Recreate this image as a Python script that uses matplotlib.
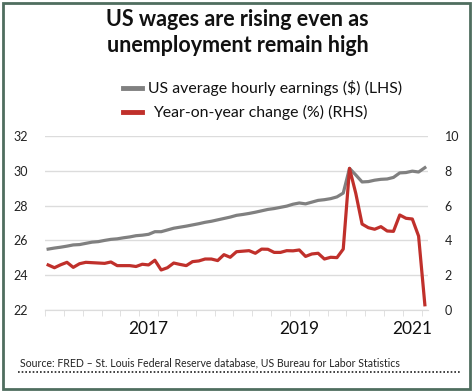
import matplotlib
matplotlib.use("Agg")
import matplotlib.pyplot as plt
from matplotlib.patches import Rectangle
from matplotlib.lines import Line2D
import numpy as np
import pandas as pd

plt.rcParams['font.family'] = ['Lato', 'DejaVu Sans']

# monthly data, Apr 2016 - Apr 2021
months = pd.date_range("2016-04-01", periods=61, freq="MS")

earnings = [25.50, 25.56, 25.61, 25.67, 25.74, 25.76, 25.83, 25.90, 25.93, 26.00,
            26.06, 26.09, 26.15, 26.20, 26.27, 26.30, 26.35, 26.50, 26.50, 26.60,
            26.70, 26.76, 26.82, 26.89, 26.96, 27.04, 27.10, 27.18, 27.26, 27.34,
            27.44, 27.49, 27.55, 27.62, 27.70, 27.78, 27.83, 27.90, 27.97, 28.08,
            28.15, 28.10, 28.20, 28.30, 28.34, 28.40, 28.50, 28.72, 30.14, 29.76,
            29.36, 29.38, 29.46, 29.51, 29.53, 29.62, 29.88, 29.90, 29.98, 29.93,
            30.18]

yoy = [2.59, 2.43, 2.60, 2.74, 2.45, 2.66, 2.74, 2.72, 2.70, 2.68,
       2.76, 2.55, 2.55, 2.55, 2.50, 2.63, 2.59, 2.86, 2.30, 2.43,
       2.70, 2.62, 2.55, 2.78, 2.82, 2.93, 2.93, 2.84, 3.18, 3.03,
       3.35, 3.38, 3.41, 3.26, 3.50, 3.49, 3.31, 3.31, 3.41, 3.40,
       3.45, 3.08, 3.22, 3.26, 2.93, 3.03, 3.01, 3.50, 8.14, 6.70,
       4.94, 4.73, 4.64, 4.79, 4.54, 4.52, 5.46, 5.27, 5.23, 4.25,
       0.30]

year_labels = ["2017", "2019", "2021"]
year_label_months = ["2017-08", "2019-08", "2021-02"]

x = np.arange(len(months))
label_pos = [months.get_loc(pd.Timestamp(m + "-01")) for m in year_label_months]

gray = "#808080"
red = "#c0302b"
grid_c = "#dcdcdc"

fig = plt.figure(figsize=(4.75, 3.91), dpi=100)
ax = fig.add_axes([45/475, 81/391, 383/475, 174/391])
ax2 = ax.twinx()

ax.plot(x, earnings, color=gray, lw=2.3, solid_joinstyle='round', zorder=3)
ax2.plot(x, yoy, color=red, lw=2.3, solid_joinstyle='round', zorder=3)

ax.set_xlim(-0.5, len(x) - 0.5)
ax.set_ylim(22, 32)
ax2.set_ylim(0, 10)
ax.set_yticks(np.arange(22, 33, 2))
ax2.set_yticks(np.arange(0, 11, 2))

ax.grid(axis='y', color=grid_c, lw=1)
ax.set_axisbelow(True)

for a in (ax, ax2):
    for s in ['top', 'left', 'right']:
        a.spines[s].set_visible(False)
    a.spines['bottom'].set_color(grid_c)
    a.tick_params(axis='y', length=0, labelsize=9, pad=12, colors='#222222')

ax.set_xticks(label_pos)
ax.set_xticklabels(year_labels)
ax.set_xticks(np.arange(-0.5, len(x), 3), minor=True)
ax.tick_params(axis='x', which='major', length=0, labelsize=12.5, pad=8, colors='#111111')
ax.tick_params(axis='x', which='minor', length=4, color=grid_c)

# title
fig.text(0.5, 1 - 20/391, "US wages are rising even as", ha='center', va='center',
         fontsize=15.5, fontweight='bold', color='#111111')
fig.text(0.5, 1 - 45/391, "unemployment remain high", ha='center', va='center',
         fontsize=15.5, fontweight='bold', color='#111111')

# legend
for yy, c, tx, lab in [(88, gray, 148, "US average hourly earnings ($) (LHS)"),
                       (112, red, 153, "Year-on-year change (%) (RHS)")]:
    fig.add_artist(Line2D([123/475, 142/475], [1 - yy/391, 1 - yy/391], color=c, lw=3.5))
    fig.text(tx/475, 1 - yy/391, lab, ha='left', va='center', fontsize=11.4, color='#111111')

# source
fig.text(20/475, 1 - 363/391, "Source: FRED \u2013 St. Louis Federal Reserve database, US Bureau for Labor Statistics",
         ha='left', va='center', fontsize=7.6, color='#222222')
fig.add_artist(Line2D([18/475, 460/475], [1 - 372/391, 1 - 372/391], color='#222222',
                      lw=1.2, linestyle=(0, (1, 1.2))))

# border
fig.add_artist(Rectangle((3/475, 2/391), 467/475, 386/391, transform=fig.transFigure,
                         fill=False, edgecolor='#4f6e5f', lw=2))

fig.savefig("out.png", dpi=100)
